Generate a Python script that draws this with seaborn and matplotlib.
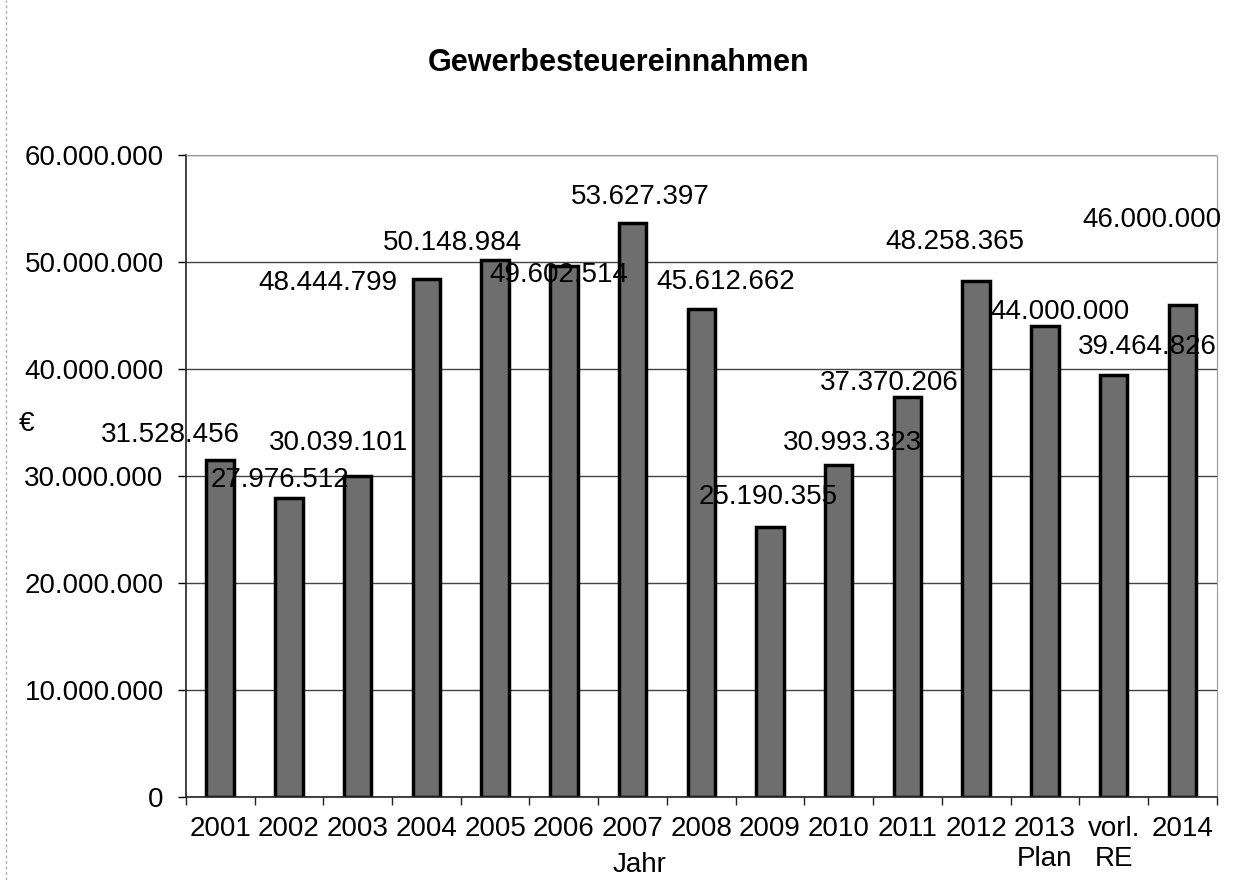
import matplotlib
matplotlib.use("Agg")
import matplotlib.pyplot as plt
import matplotlib.ticker as mticker
from matplotlib.lines import Line2D
import numpy as np
import pandas as pd
import seaborn as sns

# Daten
jahre = ["2001", "2002", "2003", "2004", "2005", "2006", "2007", "2008",
         "2009", "2010", "2011", "2012", "2013\nPlan", "vorl.\nRE", "2014"]
einnahmen = [31528456, 27976512, 30039101, 48444799, 50148984, 49602514,
             53627397, 45612662, 25190355, 30993323, 37370206, 48258365,
             44000000, 39464826, 46000000]

# Lage der Beschriftungen relativ zur Balkenspitze (Pixel, wie im Original verschoben)
label_dx = [-50, -9, -19, -98, -43, -5, 8, 24, -2, 14, -18, -21, 15, 34, -30]
label_dy = [25, 18, 33, -4, 17, -9, 26, 27, 30, 22, 14, 39, 14, 28, 85]

df = pd.DataFrame({"Jahr": jahre, "Euro": einnahmen})

sns.set_style("white")
plt.rcParams['font.family'] = ['Liberation Sans', 'DejaVu Sans']
plt.rcParams['text.color'] = 'black'

DPI = 100
fig = plt.figure(figsize=(12.39, 8.8), dpi=DPI)
ax = fig.add_axes([0.150, 0.0943, 0.832, 0.7297])

sns.barplot(data=df, x="Jahr", y="Euro", order=jahre, color="#6e6e6e",
            saturation=1, width=0.4, edgecolor="black", linewidth=2.5, ax=ax)

ax.set_ylim(0, 60000000)
ax.set_xlim(-0.5, len(jahre) - 0.5)

# Gitter
ax.yaxis.set_major_locator(mticker.MultipleLocator(10000000))
ax.yaxis.set_major_formatter(mticker.FuncFormatter(
    lambda v, p: f"{int(v):,}".replace(",", ".")))
ax.grid(axis="y", color="#444444", linewidth=1)
ax.set_axisbelow(True)

# Spines
ax.spines["left"].set_color("#222222")
ax.spines["left"].set_linewidth(1.2)
ax.spines["bottom"].set_color("#222222")
ax.spines["bottom"].set_linewidth(1.2)
ax.spines["top"].set_color("#999999")
ax.spines["top"].set_linestyle((0, (1, 1)))
ax.spines["right"].set_color("#999999")
ax.spines["right"].set_linestyle((0, (1, 1)))

# Ticks
ax.tick_params(axis="y", labelsize=20, length=6, width=1, direction="out",
               left=True, pad=10, colors="black")
ax.tick_params(axis="x", which="major", labelsize=20, length=0, pad=14,
               colors="black")
ax.set_xticks(np.arange(-0.5, len(jahre), 1.0), minor=True)
ax.tick_params(axis="x", which="minor", length=6, width=1, bottom=True,
               color="#222222")
for lbl in ax.get_xticklabels():
    lbl.set_linespacing(1.2)

# Achsentitel
ax.set_xlabel("Jahr", fontsize=20, color="black")
ax.xaxis.set_label_coords(0.44, -0.085)
ax.set_ylabel("€", fontsize=20, rotation=0, color="black")
ax.yaxis.set_label_coords(-0.155, 0.56)

# Werte
for i, v in enumerate(einnahmen):
    txt = f"{v:,}".replace(",", ".")
    ax.annotate(txt, xy=(i, v),
                xytext=(label_dx[i] * 72 / DPI, label_dy[i] * 72 / DPI),
                textcoords="offset points", ha="center", va="center",
                fontsize=20, color="black", annotation_clip=False)

fig.suptitle("Gewerbesteuereinnahmen", fontsize=22, fontweight="bold",
             x=0.499, y=0.928, va="center", color="black")

# gestrichelter Rahmen links (Diagrammbereich)
fig.add_artist(Line2D([0.005, 0.005], [0, 1], transform=fig.transFigure,
                      color="#aaaaaa", linewidth=1, linestyle=(0, (2, 2))))

fig.savefig("out.png", dpi=DPI)
